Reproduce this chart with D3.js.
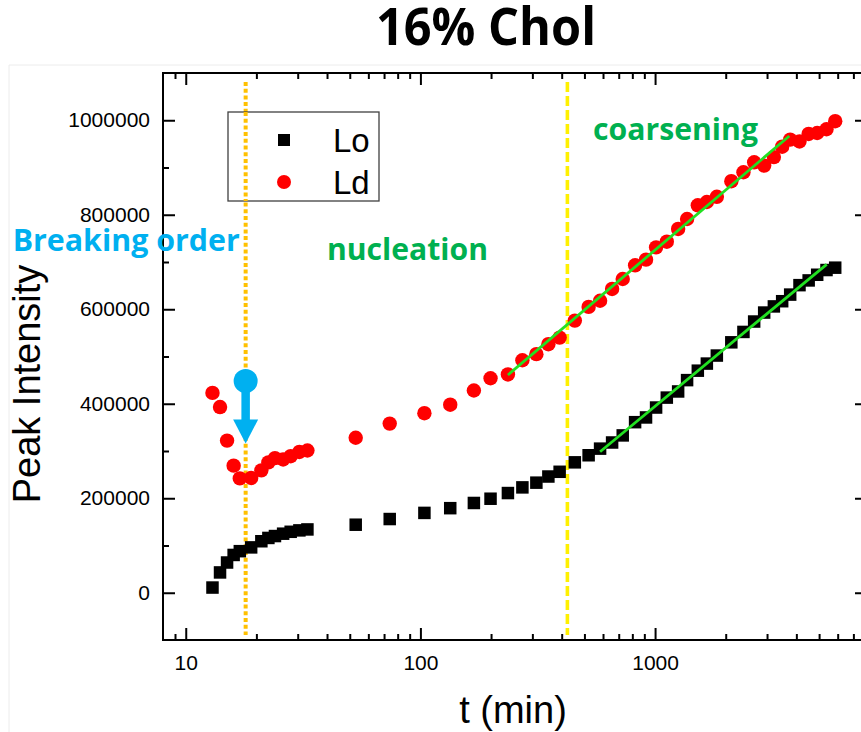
<!DOCTYPE html>
<html>
<head>
<meta charset="utf-8">
<script src="https://cdn.jsdelivr.net/npm/d3@7"></script>
<style>
  html, body { margin: 0; padding: 0; background: #fff; overflow: hidden; }
  svg { display: block; }
</style>
</head>
<body>
<svg id="chart" width="861" height="732"></svg>
<script>
// Sampling times (minutes)
const minutes = [
  13, 14, 15, 16, 17, 19, 21, 22.5, 24, 26, 28, 30.5, 33,
  53, 74, 104, 134, 169, 199, 236, 272, 312, 351, 392, 455, 521, 583,
  656, 728, 822, 915, 1010, 1122, 1254, 1369, 1521, 1662, 1833, 2113, 2380,
  2644, 2917, 3208, 3480, 3765, 4125, 4513, 4907, 5377, 5856
];

// Peak intensity, liquid-ordered phase
const loIntensity = [
  11000, 43000, 64000, 80000, 88000, 96000, 109000, 116000, 120000, 125000, 129000, 132000, 134000,
  144000, 156000, 169000, 179000, 190000, 199000, 211000, 223000, 233000, 246000, 256000, 276000, 291000, 305000,
  318000, 333000, 361000, 371000, 392000, 413000, 426000, 450000, 470000, 485000, 502000, 530000, 552000,
  574000, 593000, 606000, 617000, 631000, 651000, 661000, 673000, 683000, 688000
];

// Peak intensity, liquid-disordered phase
const ldIntensity = [
  423000, 393000, 322000, 269000, 242000, 243000, 259000, 276000, 285000, 282000, 289000, 298000, 301000,
  328000, 358000, 380000, 398000, 428000, 454000, 462000, 492000, 505000, 526000, 540000, 576000, 605000, 618000,
  643000, 664000, 693000, 705000, 731000, 743000, 770000, 791000, 820000, 827000, 838000, 871000, 890000,
  911000, 904000, 922000, 944000, 959000, 955000, 971000, 973000, 981000, 998000
];

// Linear fits in log(t) for the coarsening regime
const ldFitT = [236, 3733];
const ldFitV = [460800, 966700];
const loFitT = [583, 5388];
const loFitV = [298500, 695100];

// Phase boundaries (minutes)
const orderBreakT = 18;
const coarseningT = 423;

// Intensity drop marker at the ordering break
const dropFrom = 448000;
const dropTo = 316000;

// Axis ticks
const xMajorTicks = [10, 100, 1000];
const xMinorTicks = [9, 20, 30, 40, 50, 60, 70, 80, 90, 200, 300, 400, 500, 600, 700, 800, 900,
                     2000, 3000, 4000, 5000, 6000, 7000];
const yMajorTicks = [0, 200000, 400000, 600000, 800000, 1000000];
const yMinorTicks = [100000, 300000, 500000, 700000, 900000];

const seriesNames = ["Lo", "Ld"];

const svg = d3.select("#chart");
const W = 861, H = 732;

const plotL = 163, plotR = 867, plotT = 73, plotB = 640;

const x = d3.scaleLog().domain([8, 8000]).range([plotL, plotR]);
const y = d3.scaleLinear().domain([-100000, 1100000]).range([plotB, plotT]);

const axisFont = "'Liberation Sans', Arial, sans-serif";
const boldFont = "'Open Sans', 'Noto Sans', sans-serif";

// faint page border
svg.append("line").attr("x1", 9).attr("x2", W).attr("y1", 65).attr("y2", 65)
  .attr("stroke", "#ececec").attr("stroke-width", 1);
svg.append("line").attr("x1", 9).attr("x2", 9).attr("y1", 65).attr("y2", H)
  .attr("stroke", "#ececec").attr("stroke-width", 1);

// Title
svg.append("text")
  .attr("x", 486).attr("y", 45)
  .attr("text-anchor", "middle")
  .attr("font-family", boldFont).attr("font-weight", 700).attr("font-size", 52)
  .attr("textLength", 220).attr("lengthAdjust", "spacingAndGlyphs")
  .text("16% Chol");

// Axes with inward ticks on all four sides
function styleAxis(g) {
  g.selectAll(".domain").remove();
  g.selectAll(".tick line").attr("stroke", "#000").attr("stroke-width", 2);
  g.selectAll(".tick text").attr("font-family", axisFont).attr("font-size", 21).attr("fill", "#000");
}

svg.append("g").attr("transform", `translate(0,${plotB})`)
  .call(d3.axisBottom(x).tickValues(xMajorTicks).tickSize(-12).tickSizeOuter(0).tickPadding(15)
    .tickFormat(d3.format("d")))
  .call(styleAxis);
svg.append("g").attr("transform", `translate(0,${plotB})`)
  .call(d3.axisBottom(x).tickValues(xMinorTicks).tickSize(-6).tickSizeOuter(0).tickFormat(""))
  .call(styleAxis);
svg.append("g").attr("transform", `translate(0,${plotT})`)
  .call(d3.axisTop(x).tickValues(xMajorTicks).tickSize(-12).tickSizeOuter(0).tickFormat(""))
  .call(styleAxis);
svg.append("g").attr("transform", `translate(0,${plotT})`)
  .call(d3.axisTop(x).tickValues(xMinorTicks).tickSize(-6).tickSizeOuter(0).tickFormat(""))
  .call(styleAxis);

svg.append("g").attr("transform", `translate(${plotL},0)`)
  .call(d3.axisLeft(y).tickValues(yMajorTicks).tickSize(-12).tickSizeOuter(0).tickPadding(13)
    .tickFormat(d3.format("d")))
  .call(styleAxis);
svg.append("g").attr("transform", `translate(${plotL},0)`)
  .call(d3.axisLeft(y).tickValues(yMinorTicks).tickSize(-6).tickSizeOuter(0).tickFormat(""))
  .call(styleAxis);
svg.append("g").attr("transform", `translate(${plotR},0)`)
  .call(d3.axisRight(y).tickValues(yMajorTicks).tickSize(-12).tickSizeOuter(0).tickFormat(""))
  .call(styleAxis);
svg.append("g").attr("transform", `translate(${plotR},0)`)
  .call(d3.axisRight(y).tickValues(yMinorTicks).tickSize(-6).tickSizeOuter(0).tickFormat(""))
  .call(styleAxis);

// Frame
svg.append("rect")
  .attr("x", plotL).attr("y", plotT).attr("width", plotR - plotL).attr("height", plotB - plotT)
  .attr("fill", "none").attr("stroke", "#000").attr("stroke-width", 2);

// Axis titles
svg.append("text")
  .attr("transform", `translate(40,384) rotate(-90)`)
  .attr("text-anchor", "middle")
  .attr("font-family", axisFont).attr("font-size", 38)
  .text("Peak Intensity");
svg.append("text")
  .attr("x", 513).attr("y", 723)
  .attr("text-anchor", "middle")
  .attr("font-family", axisFont).attr("font-size", 38)
  .text("t (min)");

// Phase boundary lines
svg.append("line")
  .attr("x1", x(orderBreakT)).attr("x2", x(orderBreakT))
  .attr("y1", plotT + 9).attr("y2", plotB - 5)
  .attr("stroke", "#FFC000").attr("stroke-width", 4).attr("stroke-dasharray", "4,2.7");
svg.append("line")
  .attr("x1", x(coarseningT)).attr("x2", x(coarseningT))
  .attr("y1", plotT + 9).attr("y2", plotB - 5)
  .attr("stroke", "#FFF000").attr("stroke-width", 3.6).attr("stroke-dasharray", "10,4");

// Data points
const data = minutes.map((t, i) => ({ t, lo: loIntensity[i], ld: ldIntensity[i] }));
const sq = 12.5;
svg.append("g").selectAll("rect").data(data).join("rect")
  .attr("x", d => x(d.t) - sq / 2).attr("y", d => y(d.lo) - sq / 2)
  .attr("width", sq).attr("height", sq).attr("fill", "#000");
svg.append("g").selectAll("circle").data(data).join("circle")
  .attr("cx", d => x(d.t)).attr("cy", d => y(d.ld)).attr("r", 7.2)
  .attr("fill", "#FF0000");

// Fit lines
const line = d3.line().x(d => x(d[0])).y(d => y(d[1]));
svg.append("path").datum(d3.zip(ldFitT, ldFitV)).attr("d", line)
  .attr("fill", "none").attr("stroke", "#22E022").attr("stroke-width", 2.8);
svg.append("path").datum(d3.zip(loFitT, loFitV)).attr("d", line)
  .attr("fill", "none").attr("stroke", "#22E022").attr("stroke-width", 2.8);

// Intensity drop marker
const blue = "#00B0F0";
const mx = x(orderBreakT), my0 = y(dropFrom), my1 = y(dropTo);
svg.append("line").attr("x1", mx).attr("x2", mx).attr("y1", my0).attr("y2", my1 - 20)
  .attr("stroke", blue).attr("stroke-width", 8.5);
svg.append("circle").attr("cx", mx).attr("cy", my0).attr("r", 12).attr("fill", blue);
svg.append("path")
  .attr("d", `M${mx - 12.5},${my1 - 24} L${mx + 12.5},${my1 - 24} L${mx},${my1} Z`)
  .attr("fill", blue);

// Phase annotations
svg.append("text").attr("x", 12.7).attr("y", 251)
  .attr("font-family", boldFont).attr("font-weight", 700).attr("font-size", 31)
  .attr("fill", blue).attr("textLength", 227).attr("lengthAdjust", "spacingAndGlyphs")
  .text("Breaking order");
svg.append("text").attr("x", 327).attr("y", 260)
  .attr("font-family", boldFont).attr("font-weight", 700).attr("font-size", 31)
  .attr("fill", "#00B050").attr("textLength", 161).attr("lengthAdjust", "spacingAndGlyphs")
  .text("nucleation");
svg.append("text").attr("x", 593).attr("y", 140)
  .attr("font-family", boldFont).attr("font-weight", 700).attr("font-size", 31)
  .attr("fill", "#00B050").attr("textLength", 165).attr("lengthAdjust", "spacingAndGlyphs")
  .text("coarsening");

// Legend
const lg = svg.append("g");
lg.append("rect").attr("x", 228).attr("y", 112).attr("width", 151).attr("height", 89)
  .attr("fill", "#fff").attr("stroke", "#404040").attr("stroke-width", 1.3);
lg.append("rect").attr("x", 284 - 6).attr("y", 140 - 6).attr("width", 12).attr("height", 12).attr("fill", "#000");
lg.append("circle").attr("cx", 284).attr("cy", 182).attr("r", 7).attr("fill", "#FF0000");
lg.append("text").attr("x", 333).attr("y", 152)
  .attr("font-family", axisFont).attr("font-size", 33).text(seriesNames[0]);
lg.append("text").attr("x", 333).attr("y", 194)
  .attr("font-family", axisFont).attr("font-size", 33).text(seriesNames[1]);

// Keep the orange boundary visible through the legend box
svg.append("line")
  .attr("x1", x(orderBreakT)).attr("x2", x(orderBreakT))
  .attr("y1", 112).attr("y2", 201)
  .attr("stroke", "#FFC000").attr("stroke-width", 4).attr("stroke-dasharray", "4,2.7");
</script>
</body>
</html>
